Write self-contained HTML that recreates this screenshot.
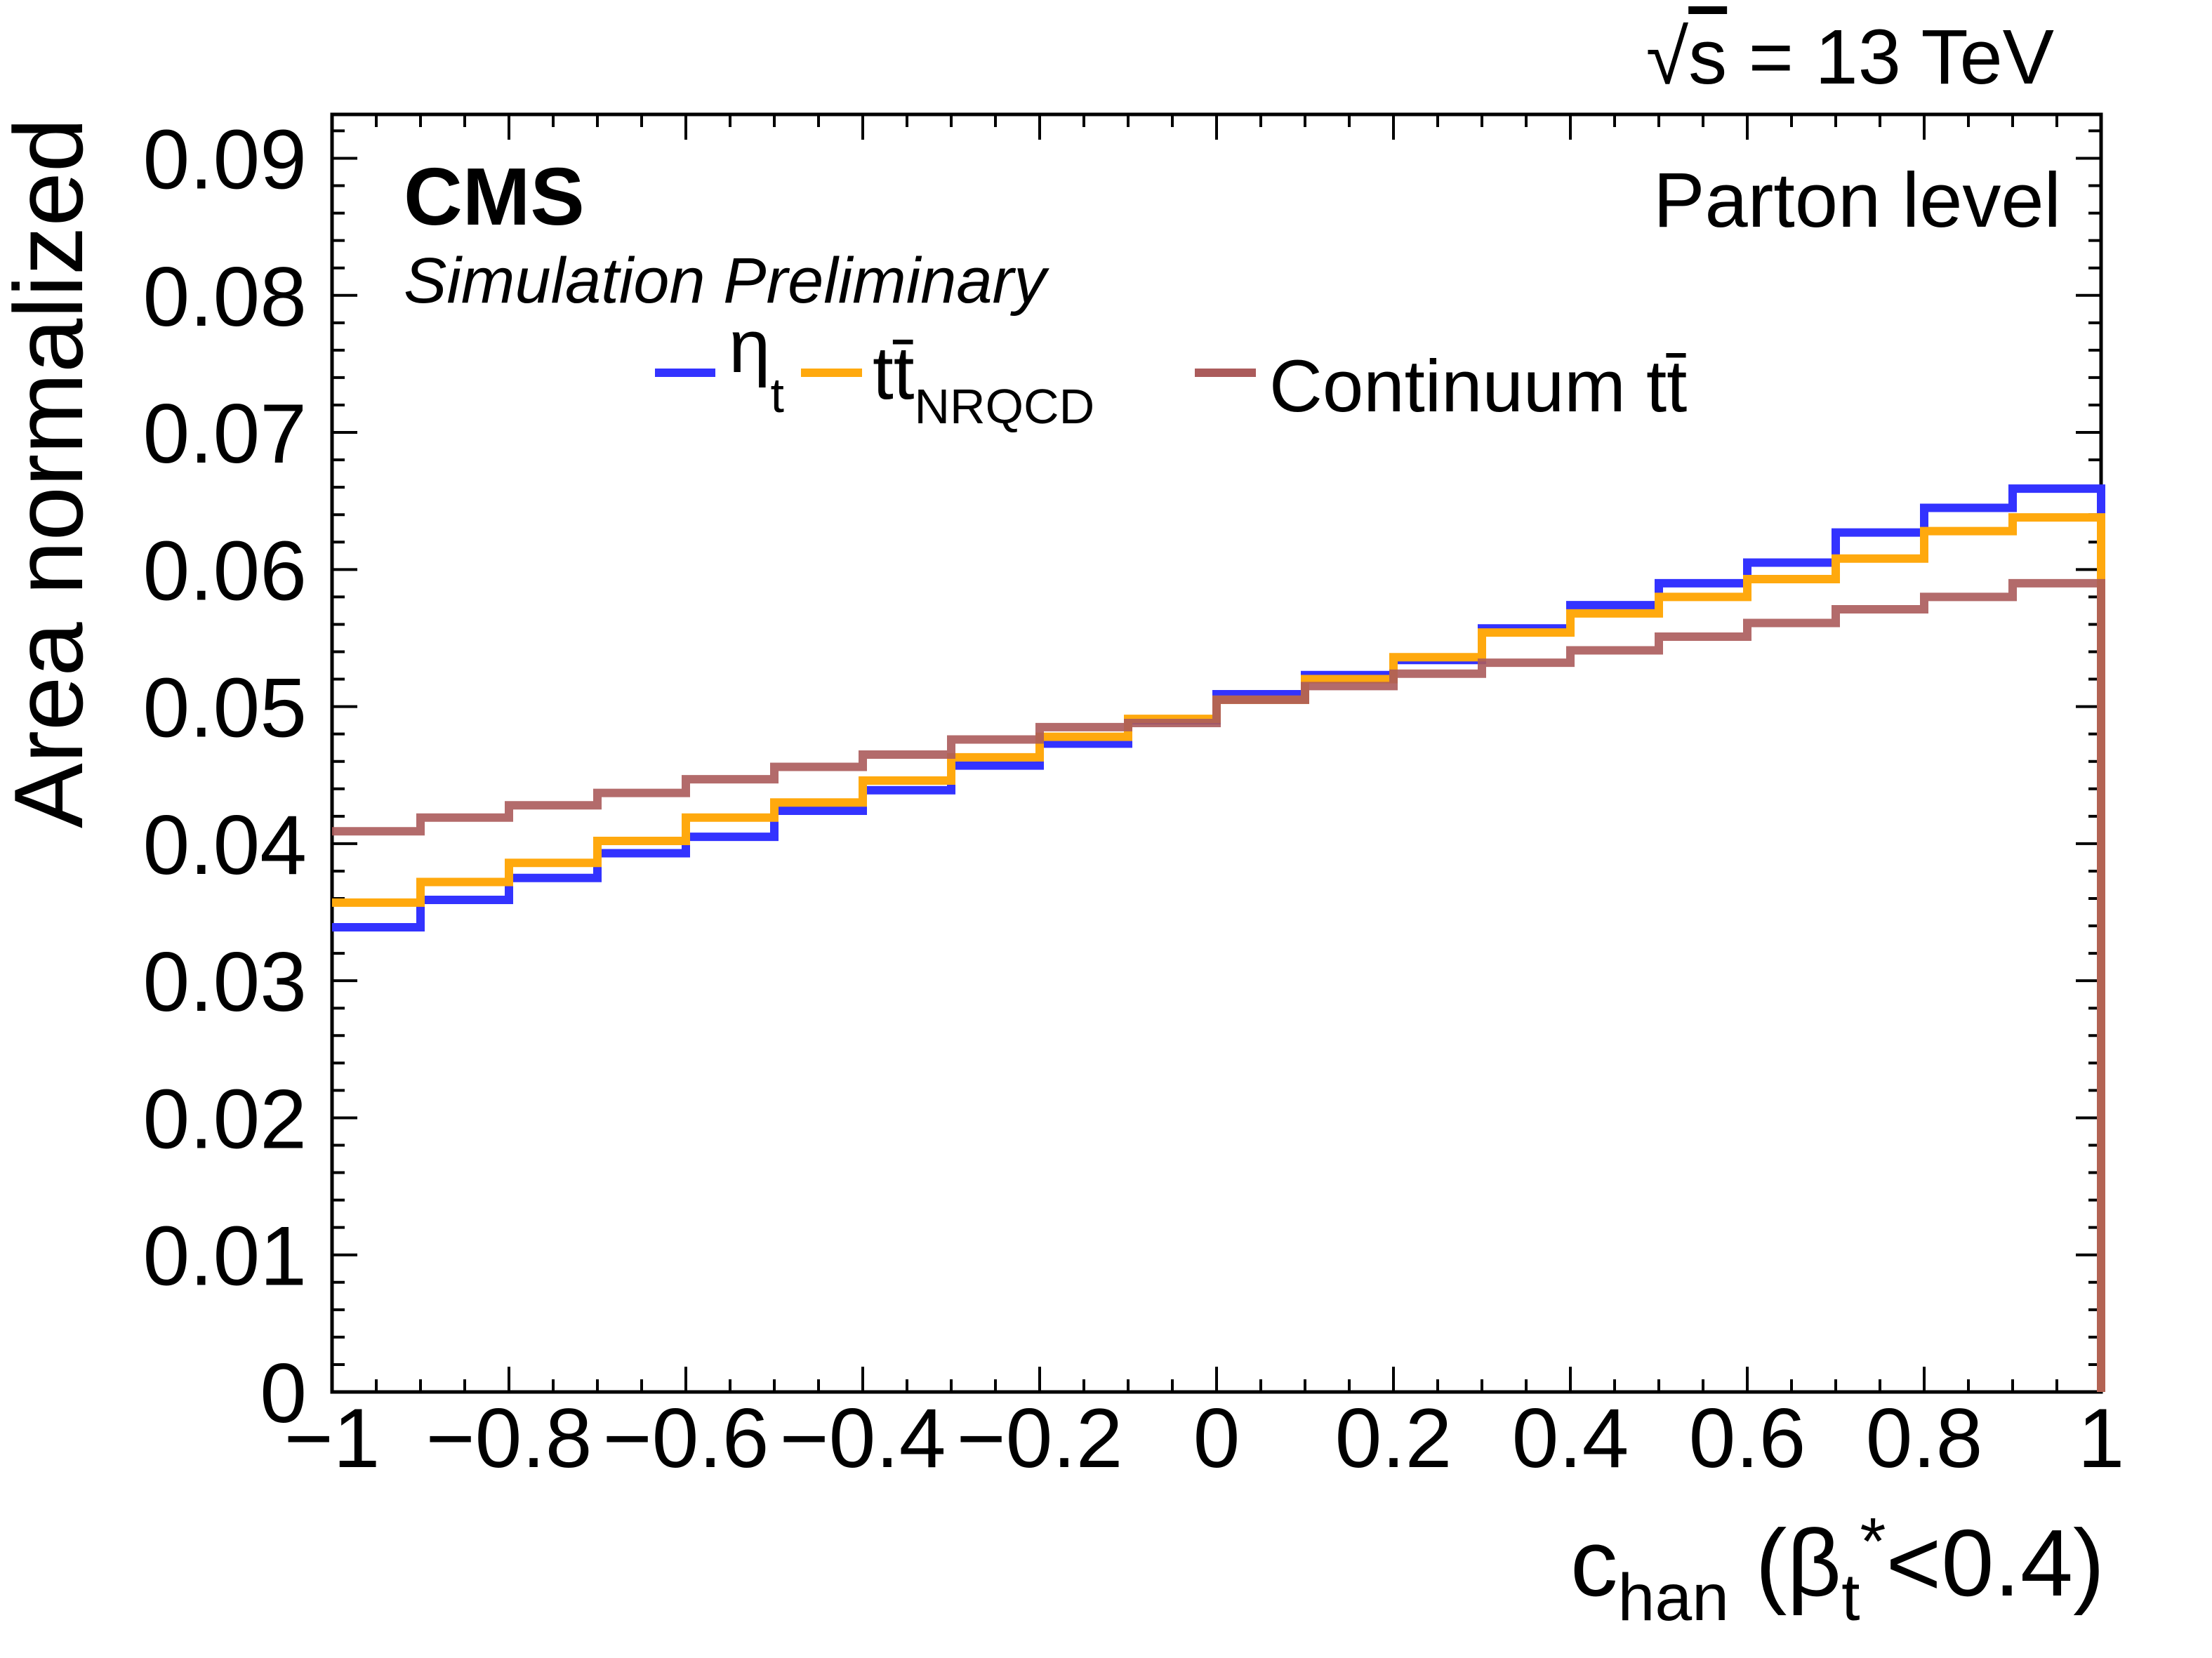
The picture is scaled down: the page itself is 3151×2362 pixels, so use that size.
<!DOCTYPE html>
<html><head><meta charset="utf-8"><style>
html,body{margin:0;padding:0;background:#fff}
svg{display:block;font-family:"Liberation Sans",Arial,sans-serif}
</style></head><body>
<svg id="chart" width="3151" height="2362" viewBox="0 0 3151 2362" xmlns="http://www.w3.org/2000/svg">
<rect x="0" y="0" width="3151" height="2362" fill="#fff"/>
<g id="axes"></g>
<g id="series"></g>
<text transform="translate(117,1180) rotate(-90)" font-size="139" text-anchor="start">Area normalized</text>
<text x="2998" y="2273" font-size="135" text-anchor="end">c<tspan font-size="95" dy="35">han</tspan><tspan dy="-35"> (β</tspan><tspan font-size="95" dy="35">t</tspan><tspan font-size="95" dy="-80">*</tspan><tspan dy="45">&lt;0.4)</tspan></text>
<text x="2926" y="119" font-size="110" text-anchor="end">√<tspan text-decoration="overline">s</tspan> = 13 TeV</text>
<text x="575" y="320" font-size="116" font-weight="bold">CMS</text>
<text x="575" y="431" font-size="92" font-style="italic">Simulation Preliminary</text>
<text x="2936" y="323" font-size="110" text-anchor="end">Parton level</text>
<g>
<line x1="933" y1="531" x2="1019" y2="531" stroke="#3333ff" stroke-width="12"/>
<text x="1038" y="530" font-size="107">η<tspan font-size="70" dy="57">t</tspan></text>
<line x1="1141" y1="531" x2="1228" y2="531" stroke="#ffa90e" stroke-width="12"/>
<text x="1243" y="568" font-size="107">tt̄<tspan font-size="70" dy="35">NRQCD</tspan></text>
<line x1="1702" y1="531" x2="1789" y2="531" stroke="#ab5b5b" stroke-width="12"/>
<text x="1808" y="586" font-size="105">Continuum tt̄</text>
</g>
</svg>
<script>
const binEdges = [-1,-0.9,-0.8,-0.7,-0.6,-0.5,-0.4,-0.3,-0.2,-0.1,0,0.1,0.2,0.3,0.4,0.5,0.6,0.7,0.8,0.9,1];
const etaT = [0.0339,0.0359,0.0375,0.0393,0.0405,0.0424,0.0439,0.0457,0.0473,0.0490,0.0509,0.0523,0.0534,0.0557,0.0574,0.0590,0.0605,0.0627,0.0645,0.0659];
const ttNRQCD = [0.0357,0.0372,0.0386,0.0402,0.0419,0.0430,0.0446,0.0463,0.0478,0.0491,0.0505,0.0520,0.0536,0.0554,0.0568,0.0580,0.0593,0.0608,0.0628,0.0638];
const continuum = [0.0409,0.0419,0.0428,0.0437,0.0447,0.0456,0.0465,0.0476,0.0485,0.0488,0.0505,0.0515,0.0524,0.0532,0.0541,0.0551,0.0561,0.0571,0.0580,0.0590];
const xTicks = [-1,-0.8,-0.6,-0.4,-0.2,0,0.2,0.4,0.6,0.8,1];
const xTickLabels = ["−1","−0.8","−0.6","−0.4","−0.2","0","0.2","0.4","0.6","0.8","1"];
const yTicks = [0,0.01,0.02,0.03,0.04,0.05,0.06,0.07,0.08,0.09];
const yTickLabels = ["0","0.01","0.02","0.03","0.04","0.05","0.06","0.07","0.08","0.09"];

const X0=473, X1=2993, Y0=1983, Y1=163, XMIN=-1, XMAX=1, YMIN=0, YMAX=0.0932;
const sx = v => X0 + (v-XMIN)/(XMAX-XMIN)*(X1-X0);
const sy = v => Y0 - (v-YMIN)/(YMAX-YMIN)*(Y0-Y1);
const NS="http://www.w3.org/2000/svg";
const series=document.getElementById('series'), axes=document.getElementById('axes');
function mk(tag, attrs, parent){const e=document.createElementNS(NS,tag);for(const k in attrs)e.setAttribute(k,attrs[k]);parent.appendChild(e);return e;}

function stepPath(vals){
  let d='M'+sx(binEdges[0])+','+sy(vals[0]);
  for(let i=0;i<vals.length;i++){
    if(i>0) d+=' L'+sx(binEdges[i])+','+sy(vals[i]);
    d+=' L'+sx(binEdges[i+1])+','+sy(vals[i]);
  }
  d+=' L'+sx(binEdges[binEdges.length-1])+','+sy(0);
  return d;
}
const defs=[[etaT,'#3333ff','eta-t-histogram',1],[ttNRQCD,'#ffa90e','tt-nrqcd-histogram',1],[continuum,'#ab5b5b','continuum-tt-histogram',0.9]];
for(const [vals,col,name,op] of defs){
  const p=mk('path',{d:stepPath(vals),fill:'none',stroke:col,'stroke-width':12,'stroke-linejoin':'miter','stroke-linecap':'butt',opacity:op},series);
  
  
}

const fr=mk('rect',{x:X0,y:Y1,width:X1-X0,height:Y0-Y1,fill:'none',stroke:'#000','stroke-width':5},axes);



for(let k=0;k<=40;k++){
  const v=-1+k*0.05, x=sx(v), major=(k%4===0), L=major?36:18;
  const t1=mk('line',{x1:x,y1:Y0,x2:x,y2:Y0-L,stroke:'#000','stroke-width':4},axes);
  
  
  const t2=mk('line',{x1:x,y1:Y1,x2:x,y2:Y1+L,stroke:'#000','stroke-width':4},axes);
  
  
}
xTicks.forEach((v,i)=>{
  const t=mk('text',{x:sx(v),y:2090,'font-size':120,'text-anchor':'middle'},axes);
  t.textContent=xTickLabels[i];
  
  
});
for(let k=0;k*0.002<=YMAX+1e-9;k++){
  const v=k*0.002, y=sy(v), major=(k%5===0), L=major?36:18;
  const t1=mk('line',{x1:X0,y1:y,x2:X0+L,y2:y,stroke:'#000','stroke-width':4},axes);
  
  
  const t2=mk('line',{x1:X1,y1:y,x2:X1-L,y2:y,stroke:'#000','stroke-width':4},axes);
  
  
}
yTicks.forEach((v,i)=>{
  const t=mk('text',{x:437,y:sy(v)+43,'font-size':120,'text-anchor':'end'},axes);
  t.textContent=yTickLabels[i];
  
  
});
</script>
</body></html>
